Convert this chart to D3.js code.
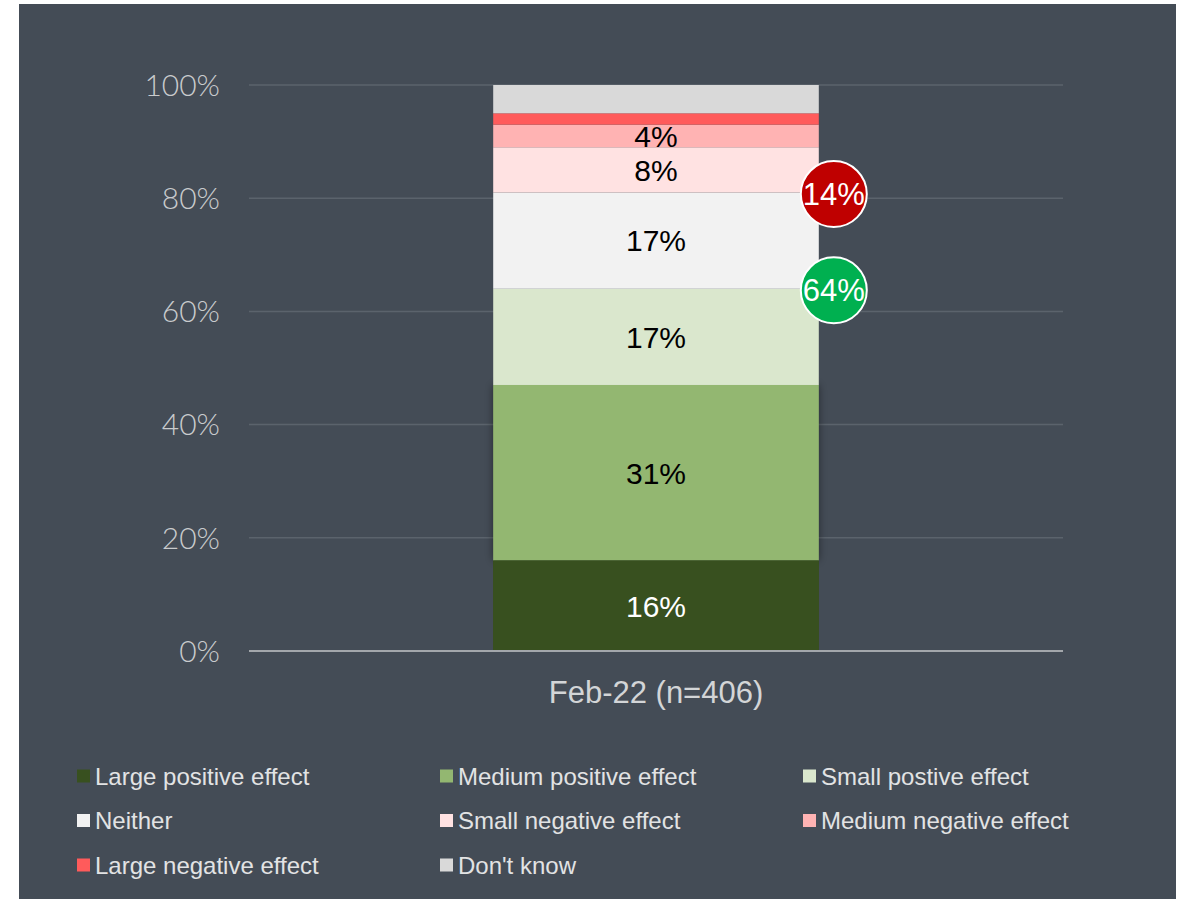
<!DOCTYPE html>
<html>
<head>
<meta charset="utf-8">
<script src="https://cdn.jsdelivr.net/npm/d3@7"></script>
<style>
  body { margin: 0; background: #fff; }
  svg { display: block; font-family: "Liberation Sans", Arial, sans-serif; }
</style>
</head>
<body>
<svg id="chart" width="1181" height="899"></svg>
<script>
// data
var categories = ["Feb-22 (n=406)"];
var seriesNames = ["Large positive effect","Medium positive effect","Small postive effect","Neither",
                   "Small negative effect","Medium negative effect","Large negative effect","Don't know"];
var values = [16, 31, 17, 17, 8, 4, 2, 5];
var seriesColors = ["#38501f","#93b771","#dae7cd","#f2f2f2","#ffe2e2","#ffb3b3","#ff5b5b","#d9d9d9"];
var labelColors = ["#fff","#000","#000","#000","#000","#000","#000","#000"];
var unlabelled = ["Large negative effect","Don't know"];
var yTicks = [0, 20, 40, 60, 80, 100];
var positiveTotal = 64;   // green bubble
var negativeTotal = 14;   // red bubble

var svg = d3.select("#chart");

// dark panel
svg.append("rect")
    .attr("x", 19).attr("y", 4)
    .attr("width", 1157).attr("height", 895)
    .attr("fill", "#444c56");

var defs = svg.append("defs");
var f = defs.append("filter").attr("id", "shadow")
    .attr("x", "-10%").attr("y", "-10%").attr("width", "120%").attr("height", "120%");
f.append("feDropShadow").attr("dx", 0).attr("dy", 0).attr("stdDeviation", 4)
    .attr("flood-color", "#000").attr("flood-opacity", 0.45);

var x = d3.scaleBand().domain(categories).range([249, 1063]).paddingInner(0).paddingOuter(0.75);
var y = d3.scaleLinear().domain([0, 100]).range([651, 85]);

// gridlines + tick labels
var grid = svg.append("g");
grid.selectAll("line")
    .data(yTicks.filter(function(d) { return d > 0; }))
    .enter().append("line")
    .attr("x1", 249).attr("x2", 1063)
    .attr("y1", function(d) { return y(d); })
    .attr("y2", function(d) { return y(d); })
    .attr("stroke", "#5b636c").attr("stroke-width", 1.5);

grid.selectAll("text")
    .data(yTicks)
    .enter().append("text")
    .attr("x", 220)
    .attr("y", function(d) { return y(d); })
    .attr("dy", "0.36em")
    .attr("text-anchor", "end")
    .style("font-family", "Lato, 'Liberation Sans', sans-serif")
    .style("font-weight", 300)
    .style("font-size", "30px")
    .attr("fill", "#c9cbcd")
    .text(function(d) { return d + "%"; });

// stacked bar
var row = {};
seriesNames.forEach(function(n, i) { row[n] = values[i]; });
row.cat = categories[0];
var stack = d3.stack().keys(seriesNames)([row]);

var bars = svg.append("g");
bars.selectAll("rect")
    .data(stack)
    .enter().append("rect")
    .attr("x", function(s) { return x(s[0].data.cat); })
    .attr("width", x.bandwidth())
    .attr("y", function(s) { return y(s[0][1]); })
    .attr("height", function(s) { return y(s[0][0]) - y(s[0][1]); })
    .attr("fill", function(s, i) { return seriesColors[i]; })
    .attr("filter", function(s) { return s.key == "Medium positive effect" ? "url(#shadow)" : null; });

// re-draw the lowest segment on top so the shadow only falls outwards
bars.append("rect")
    .attr("x", x(categories[0])).attr("width", x.bandwidth())
    .attr("y", y(stack[0][0][1]))
    .attr("height", y(stack[0][0][0]) - y(stack[0][0][1]))
    .attr("fill", seriesColors[0]);

bars.selectAll("text")
    .data(stack.filter(function(s) { return unlabelled.indexOf(s.key) < 0; }))
    .enter().append("text")
    .attr("x", function(s) { return x(s[0].data.cat) + x.bandwidth() / 2; })
    .attr("y", function(s) { return y((s[0][0] + s[0][1]) / 2); })
    .attr("dy", "0.36em")
    .attr("text-anchor", "middle")
    .style("font-size", "30px")
    .attr("fill", function(s) { return labelColors[seriesNames.indexOf(s.key)]; })
    .text(function(s) { return s[0].data[s.key] + "%"; });

// baseline
svg.append("line")
    .attr("x1", 249).attr("x2", 1063)
    .attr("y1", y(0)).attr("y2", y(0))
    .attr("stroke", "#a3a7ab").attr("stroke-width", 2);

// category label
svg.append("text")
    .attr("x", x(categories[0]) + x.bandwidth() / 2)
    .attr("y", 692)
    .attr("dy", "0.36em")
    .attr("text-anchor", "middle")
    .style("font-size", "31px")
    .attr("fill", "#d3d5d7")
    .text(categories[0]);

// summary bubbles
var neitherTop = stack[3][0][1];
var bubbles = [
    {value: positiveTotal, at: positiveTotal, color: "#00b050"},
    {value: negativeTotal, at: neitherTop, color: "#bf0000"}
];
var bx = x(categories[0]) + x.bandwidth() + 15;
var b = svg.append("g").selectAll("g")
    .data(bubbles)
    .enter().append("g")
    .attr("transform", function(d) { return "translate(" + bx + "," + (y(d.at) + 1.5) + ")"; });
b.append("circle")
    .attr("r", 33)
    .attr("fill", function(d) { return d.color; })
    .attr("stroke", "#fff").attr("stroke-width", 2);
b.append("text")
    .attr("dy", "0.36em")
    .attr("text-anchor", "middle")
    .style("font-size", "31px")
    .attr("fill", "#fff")
    .text(function(d) { return d.value + "%"; });

// legend, 3 columns
var legend = svg.append("g").selectAll("g")
    .data(seriesNames)
    .enter().append("g")
    .attr("transform", function(d, i) {
        return "translate(" + (77 + (i % 3) * 363) + "," + (776 + Math.floor(i / 3) * 44.5) + ")";
    });
legend.append("rect")
    .attr("x", 0).attr("y", -6.5)
    .attr("width", 13).attr("height", 13)
    .attr("fill", function(d, i) { return seriesColors[i]; });
legend.append("text")
    .attr("x", 18)
    .attr("dy", "0.36em")
    .style("font-size", "24px")
    .attr("fill", "#e2e3e4")
    .text(function(d) { return d; });
</script>
</body>
</html>
